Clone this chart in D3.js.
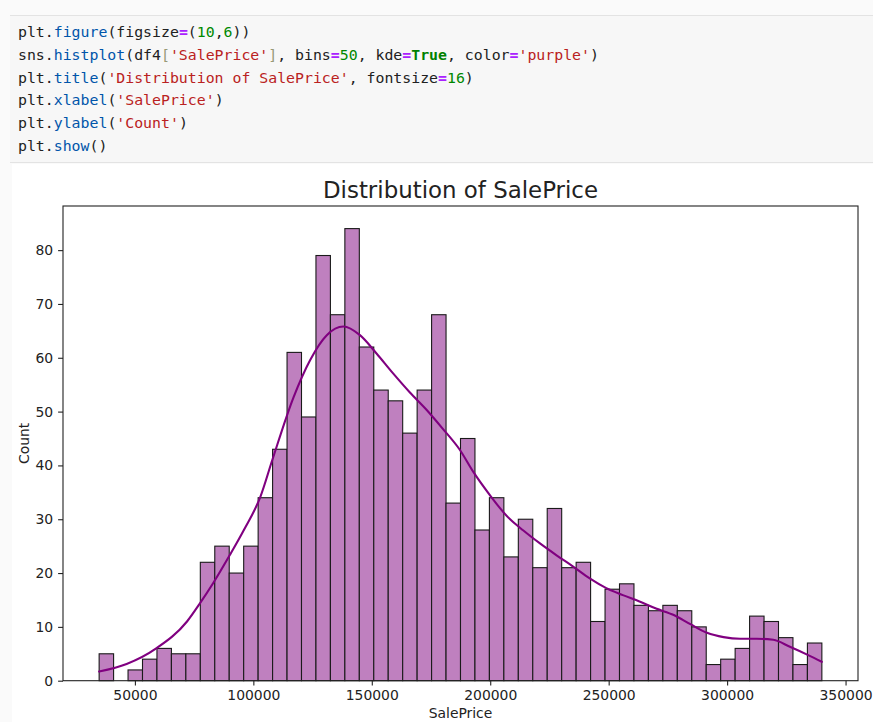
<!DOCTYPE html>
<html>
<head>
<meta charset="utf-8">
<script src="https://cdn.jsdelivr.net/npm/d3@7"></script>
<style>
  body { margin: 0; background: #fff; }
  svg { display: block; }
</style>
</head>
<body>
<svg id="chart"></svg>
<script>
// histogram counts, 50 bins between the min and max SalePrice
const binMin = 34900, binMax = 340000, binCount = 50;
const counts = [5, 0, 2, 4, 6, 5, 5, 22, 25, 20, 25, 34, 43, 61, 49, 79, 68, 84, 62, 54,
                52, 46, 54, 68, 33, 45, 28, 34, 23, 30, 21, 32, 21, 22, 11, 17, 18, 14, 13, 14,
                13, 10, 3, 4, 6, 12, 11, 8, 3, 7];

// kde curve (price, count-scaled density)
const kdeX = [34900, 46500, 59000, 72000, 77500, 83000, 90000, 96000, 103000, 108000,
              117000, 124000, 131000, 138000, 145000, 152000, 159000, 166000, 173000, 180000,
              187000, 193000, 200000, 207000, 214000, 221000, 228000, 235000, 242000, 249000,
              256000, 263000, 270000, 277500, 284500, 291500, 298500, 305500, 312500, 319500,
              326500, 334000, 340000];
const kdeY = [1.7, 3.1, 6.0, 11.0, 14.4, 18.1, 23.3, 28.0, 34.2, 41.0,
              52.7, 59.6, 64.2, 65.8, 64.2, 60.8, 57.1, 53.6, 50.4, 46.8,
              43.0, 38.7, 34.4, 30.6, 27.9, 25.5, 23.3, 21.2, 19.0, 17.2,
              15.9, 14.7, 13.4, 12.2, 10.5, 8.9, 8.1, 7.8, 7.8, 7.6,
              6.3, 4.8, 3.5];

const xTicks = [50000, 100000, 150000, 200000, 250000, 300000, 350000];
const yTicks = [0, 10, 20, 30, 40, 50, 60, 70, 80];

// the notebook cell source shown above the plot
const codeLines = [
  [["plt", "v"], [".", "v"], ["figure", "p"], ["(", "v"], ["figsize", "v"], ["=", "o"], ["(", "v"], ["10", "n"], [",", "v"], ["6", "n"], ["))", "v"]],
  [["sns", "v"], [".", "v"], ["histplot", "p"], ["(df4", "v"], ["[", "b"], ["'SalePrice'", "s"], ["]", "b"], [", bins", "v"], ["=", "o"], ["50", "n"], [", kde", "v"], ["=", "o"], ["True", "k"], [", color", "v"], ["=", "o"], ["'purple'", "s"], [")", "v"]],
  [["plt", "v"], [".", "v"], ["title", "p"], ["(", "v"], ["'Distribution of SalePrice'", "s"], [", fontsize", "v"], ["=", "o"], ["16", "n"], [")", "v"]],
  [["plt", "v"], [".", "v"], ["xlabel", "p"], ["(", "v"], ["'SalePrice'", "s"], [")", "v"]],
  [["plt", "v"], [".", "v"], ["ylabel", "p"], ["(", "v"], ["'Count'", "s"], [")", "v"]],
  [["plt", "v"], [".", "v"], ["show", "p"], ["()", "v"]]
];

const width = 873, height = 722;
const margin = { top: 206, right: 15, bottom: 41.3, left: 63 };

const svg = d3.select("#chart")
    .attr("width", width)
    .attr("height", height)
    .style("font-family", "'DejaVu Sans', sans-serif");

// page background and code cell
svg.append("rect").attr("width", width).attr("height", height).attr("fill", "#fafafa");
svg.append("rect").attr("x", 12).attr("y", 164).attr("width", width - 12).attr("height", height - 164).attr("fill", "#fff");
svg.append("rect")
    .attr("x", 10).attr("y", 15)
    .attr("width", width - 10).attr("height", 147)
    .attr("fill", "#f7f7f7");
svg.append("line").attr("x1", 10).attr("x2", width).attr("y1", 15.5).attr("y2", 15.5).attr("stroke", "#e3e3e3");
svg.append("line").attr("x1", 10).attr("x2", width).attr("y1", 162.5).attr("y2", 162.5).attr("stroke", "#e3e3e3");

const tokenColor = { v: "#212121", p: "#0055aa", o: "#aa22ff", n: "#008800", s: "#ba2121", k: "#008000", b: "#999977" };

const code = svg.append("text")
    .attr("x", 18)
    .style("font-family", "'DejaVu Sans Mono', monospace")
    .style("font-size", "14.85px");

codeLines.forEach((line, i) => {
    line.forEach(([t, c], j) => {
        const span = code.append("tspan")
            .attr("fill", tokenColor[c])
            .attr("font-weight", (c === "k" || c === "o") ? "bold" : null)
            .text(t);
        if (j === 0) span.attr("x", 18).attr("y", 37 + i * 22.8);
    });
});

// scales, with matplotlib's 5% margins
const pad = (binMax - binMin) * 0.05;
const x = d3.scaleLinear()
    .domain([binMin - pad, binMax + pad])
    .range([margin.left, width - margin.right]);
const y = d3.scaleLinear()
    .domain([0, d3.max(counts) * 1.05])
    .range([height - margin.bottom, margin.top]);

const binW = (binMax - binMin) / binCount;
const bins = counts.map((c, i) => ({ x0: binMin + i * binW, x1: binMin + (i + 1) * binW, count: c }));

// bars
svg.append("g")
    .selectAll("rect")
    .data(bins)
    .join("rect")
    .attr("x", d => x(d.x0))
    .attr("y", d => y(d.count))
    .attr("width", d => x(d.x1) - x(d.x0))
    .attr("height", d => y(0) - y(d.count))
    .attr("fill", "#bf80bf")
    .attr("stroke", "#1a1a1a")
    .attr("stroke-width", 1.1);

// kde line
const kde = kdeX.map((v, i) => [v, kdeY[i]]);
svg.append("path")
    .datum(kde)
    .attr("fill", "none")
    .attr("stroke", "#800080")
    .attr("stroke-width", 2.1)
    .attr("stroke-linecap", "round")
    .attr("d", d3.line().x(d => x(d[0])).y(d => y(d[1])).curve(d3.curveMonotoneX));

// axes
const xAxis = svg.append("g")
    .attr("transform", `translate(0, ${height - margin.bottom})`)
    .call(d3.axisBottom(x).tickValues(xTicks).tickFormat(d3.format("d")).tickSize(4.9).tickPadding(4.9));
const yAxis = svg.append("g")
    .attr("transform", `translate(${margin.left}, 0)`)
    .call(d3.axisLeft(y).tickValues(yTicks).tickFormat(d3.format("d")).tickSize(4.9).tickPadding(4.9));

[xAxis, yAxis].forEach(g => {
    g.select(".domain").remove();
    g.selectAll("line").attr("stroke", "#222").attr("stroke-width", 1.1);
    g.selectAll("text")
        .attr("fill", "#222")
        .style("font-family", "'DejaVu Sans', sans-serif")
        .style("font-size", "13.9px");
});

// frame
svg.append("rect")
    .attr("x", margin.left)
    .attr("y", margin.top)
    .attr("width", width - margin.right - margin.left)
    .attr("height", height - margin.bottom - margin.top)
    .attr("fill", "none")
    .attr("stroke", "#222")
    .attr("stroke-width", 1.1);

// title and labels
const cx = (margin.left + width - margin.right) / 2;
svg.append("text")
    .attr("x", cx).attr("y", 197.5)
    .attr("text-anchor", "middle")
    .attr("fill", "#222")
    .style("font-size", "22.9px")
    .text("Distribution of SalePrice");

svg.append("text")
    .attr("x", cx).attr("y", 718)
    .attr("text-anchor", "middle")
    .attr("fill", "#222")
    .style("font-size", "13.9px")
    .text("SalePrice");

svg.append("text")
    .attr("transform", `translate(29, ${(margin.top + height - margin.bottom) / 2}) rotate(-90)`)
    .attr("text-anchor", "middle")
    .attr("fill", "#222")
    .style("font-size", "13.9px")
    .text("Count");
</script>
</body>
</html>
